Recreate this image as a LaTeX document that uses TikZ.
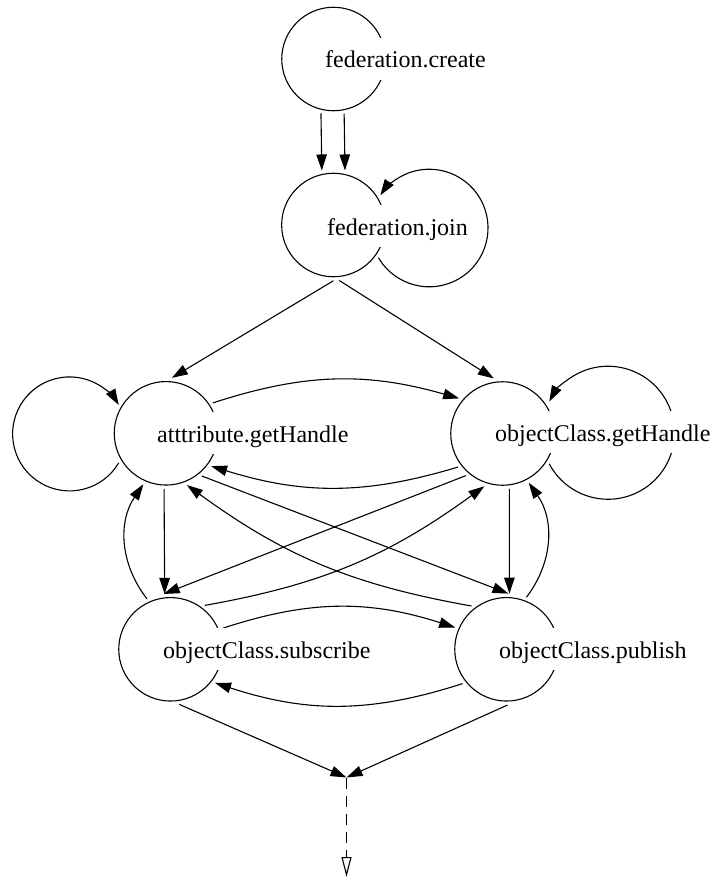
\documentclass[tikz,border=0pt]{standalone}
\usepackage{fontspec}
\setmainfont{Liberation Serif}
\usetikzlibrary{arrows.meta}
\begin{document}
\begin{tikzpicture}[x=1pt,y=1pt,
  statecircle/.style={circle, draw, line width=1.1pt, minimum size=103.5pt, inner sep=0pt, outer sep=4pt},
  nodetext/.style={anchor=base west, fill=white, inner xsep=1pt, inner ysep=5pt,
    text height=25pt, text depth=7pt, font=\fontsize{24}{28}\selectfont},
  flow/.style={line width=1.1pt, -{Triangle[length=16pt,width=10.5pt]}},
  ]
\useasboundingbox (0,0) rectangle (711,-880);

% states
\node[statecircle] (create) at (333.5,-59) {};
\node[statecircle] (join)   at (333.4,-225) {};
\node[statecircle] (attr)   at (166,-433.3) {};
\node[statecircle] (ocgh)   at (502.5,-433.5) {};
\node[statecircle] (sub)    at (170.5,-649.3) {};
\node[statecircle] (pub)    at (506.5,-649.3) {};
\coordinate (merge) at (346.5,-777.5);
\coordinate (final) at (346.5,-877);

% transitions
\draw[flow] (create.257.6) -- (join.102.4);
\draw[flow] (create.281.3) -- (join.78.7);
\draw[flow] (join.-36.7) arc[start angle=210.4, end angle=506.2, radius=58.8];
\draw[flow] (join.-90) -- (attr.84);
\draw[flow] (join.-84) -- (ocgh.99);

\draw[flow] (attr.212.9) arc[start angle=-30.5, end angle=-329.5, radius=57];
\draw[flow] (ocgh.-33.5) arc[start angle=207.9, end angle=512.1, radius=66.5];

\draw[flow] (attr.33) to[bend left=17] (ocgh.141);
\draw[flow] (ocgh.217) to[bend left=17] (attr.-36);

\draw[flow] (attr.-92) -- (sub.96.5);
\draw[flow] (sub.115) to[bend left=36] (attr.246);
\draw[flow] (ocgh.-83) -- (pub.87);
\draw[flow] (pub.69) to[bend right=36] (ocgh.-62);

\draw[flow] (attr.-50) -- (pub.88);
\draw[flow] (pub.129) to[bend left=13] (attr.-68);
\draw[flow] (sub.52) to[bend right=13] (ocgh.251);
\draw[flow] (ocgh.229) -- (sub.97);

\draw[flow] (sub.22) to[bend left=18] (pub.157);
\draw[flow] (pub.218) to[bend left=18] (sub.-37);

\draw[flow] (sub.-81.5) -- (merge);
\draw[flow] (pub.-89) -- (merge);
\draw[line width=1.1pt, dash pattern=on 11pt off 7pt,
  -{Triangle[open,length=20pt,width=10pt]}] (merge) -- (final);

% labels
\node[nodetext] (createtxt) at (324,-68)  {federation.create};
\node[nodetext] (jointxt)   at (326,-235) {federation.join};
\node[nodetext] (attrtxt)   at (156,-442) {atttribute.getHandle};
\node[nodetext] (ocghtxt)   at (494,-441) {objectClass.getHandle};
\node[nodetext] (subtxt)    at (162,-658) {objectClass.subscribe};
\node[nodetext] (pubtxt)    at (498,-658) {objectClass.publish};
\end{tikzpicture}
\end{document}
